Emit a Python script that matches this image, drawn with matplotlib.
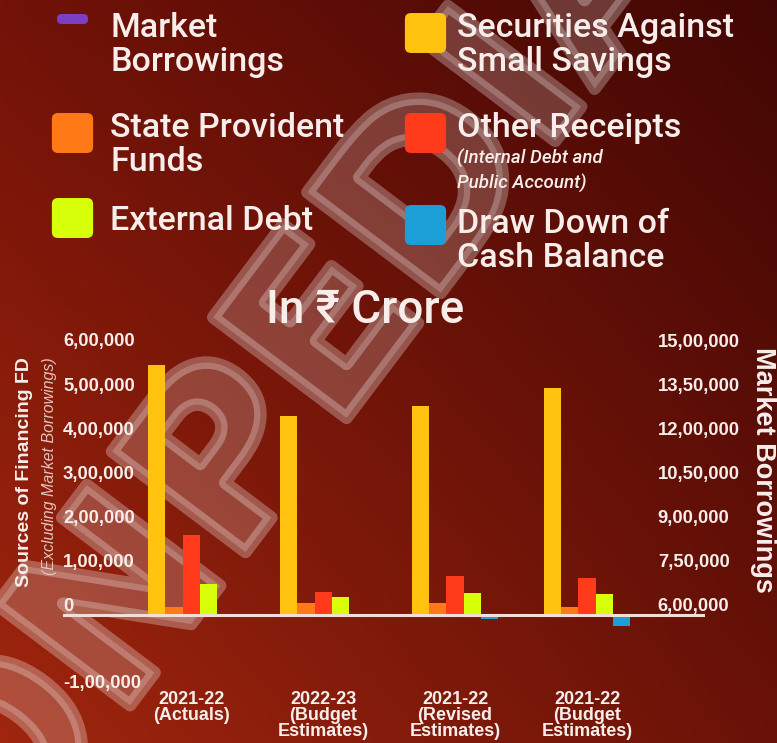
import matplotlib.pyplot as plt
import numpy as np
import matplotlib.patheffects as pe
from matplotlib.patches import FancyBboxPatch
from matplotlib import transforms

# data (in Rs crore)
periods = ['2021-22\n(Actuals)', '2022-23\n(Budget\nEstimates)',
           '2021-22\n(Revised\nEstimates)', '2021-22\n(Budget\nEstimates)']
securities = [566000, 450000, 473000, 513000]
state_pf = [18000, 27000, 27000, 18000]
other_receipts = [181000, 52000, 88000, 84000]
external_debt = [70000, 41000, 50000, 47000]
cash_drawdown = [-5000, 0, -9000, -25000]
series = [securities, state_pf, other_receipts, external_debt, cash_drawdown]
colors = ['#FFC20E', '#FF7A17', '#FF3B1C', '#D8FF0A', '#1B9FD6']
left_ticks = [-100000, 0, 100000, 200000, 300000, 400000, 500000, 600000]
right_ticks = [600000, 750000, 900000, 1050000, 1200000, 1350000, 1500000]

W, H = 777, 743
TXT = '#F7EEEB'


def inr(v):
    s = str(abs(int(v)))
    if len(s) > 3:
        head, tail = s[:-3], s[-3:]
        parts = []
        while len(head) > 2:
            parts.insert(0, head[-2:])
            head = head[:-2]
        if head:
            parts.insert(0, head)
        s = ','.join(parts + [tail])
    return ('-' if v < 0 else '') + s


def fx(x):
    return x / W


def fy(y):
    return 1 - y / H


fig = plt.figure(figsize=(W / 100, H / 100), dpi=100)

# background gradient
bg = fig.add_axes([0, 0, 1, 1], zorder=-3)
bg.axis('off')
tl, tr = np.array([0x72, 0x12, 0x08]), np.array([0x42, 0x07, 0x04])
bl, br = np.array([0xA0, 0x26, 0x0E]), np.array([0x6A, 0x12, 0x08])
u = np.linspace(0, 1, 200)[None, :, None]
v = np.linspace(0, 1, 200)[:, None, None]
grad = (tl * (1 - u) * (1 - v) + tr * u * (1 - v) + bl * (1 - u) * v + br * u * v) / 255
bg.imshow(grad, aspect='auto', extent=[0, 1, 0, 1])
bg.set_xlim(0, 1)
bg.set_ylim(0, 1)

# watermark
fig.text(fx(300), fy(375), 'ONPEDIA', rotation=53, ha='center', va='center',
         fontsize=165, fontweight='bold', family='DejaVu Sans',
         color=(1, 1, 1, 0.10), zorder=-2,
         path_effects=[pe.Stroke(linewidth=9, foreground=(1, 1, 1, 0.28)), pe.Normal()])

# main axes
ax = fig.add_axes([fx(63), fy(681), fx(705) - fx(63), fy(350) - fy(681)])
ax.patch.set_visible(False)
for s in ax.spines.values():
    s.set_visible(False)
x = np.arange(len(periods))
bw = 0.129
for i, (vals, c) in enumerate(zip(series, colors)):
    ax.bar(x + (i - 2) * bw, vals, bw, color=c, zorder=3)
ax.axhline(0, color='#F3DDD6', lw=2.2, zorder=4)
ax.set_xlim(-0.97, 3.894)
ax.set_ylim(-150000, 600000)

ax.set_yticks(left_ticks)
ax.set_yticklabels([inr(t) for t in left_ticks])
ax.tick_params(axis='y', length=0, pad=0, colors=TXT)
for t, lab in zip(left_ticks, ax.get_yticklabels()):
    lab.set_horizontalalignment('left')
    lab.set_fontweight('bold')
    lab.set_fontsize(13.3)
    lab.set_family('Liberation Sans')
    dy = 10 if t >= 0 else -23
    lab.set_transform(lab.get_transform() + transforms.ScaledTranslation(0, dy / 100, fig.dpi_scale_trans))

ax.set_xticks(x)
ax.set_xticklabels(periods, fontsize=13, fontweight='bold', family='Liberation Sans',
                   color=TXT, linespacing=0.95, va='top')
ax.tick_params(axis='x', length=0, pad=7)

ax2 = ax.twinx()
for s in ax2.spines.values():
    s.set_visible(False)
ax2.set_ylim(375000, 1500000)
ax2.set_yticks(right_ticks)
ax2.set_yticklabels([inr(t) for t in right_ticks])
ax2.tick_params(axis='y', length=0, pad=-34, colors=TXT)
for lab in ax2.get_yticklabels():
    lab.set_horizontalalignment('left')
    lab.set_fontweight('bold')
    lab.set_fontsize(13.3)
    lab.set_family('Liberation Sans')
    lab.set_transform(lab.get_transform() + transforms.ScaledTranslation(0, 10 / 100, fig.dpi_scale_trans))

# axis titles
fig.text(fx(25), fy(472), 'Sources of Financing FD', rotation=90, ha='center', va='center',
         fontsize=14, fontweight='bold', family='Liberation Sans', color=TXT)
fig.text(fx(50), fy(466), '(Excluding Market Borrowings)', rotation=90, ha='center', va='center',
         fontsize=11.5, style='italic', family='Liberation Sans', color='#E2C4BC')
fig.text(fx(763), fy(470), 'Market Borrowings', rotation=-90, ha='center', va='center',
         fontsize=19.5, fontweight='bold', family='Liberation Sans', color=TXT)

# title
fig.text(fx(365), fy(323), 'In ₹ Crore', ha='center', va='baseline', fontsize=33,
         fontweight='medium', family=['Roboto', 'DejaVu Sans'], color=TXT)

# legend
legend_names = ['Market\nBorrowings', 'Securities Against\nSmall Savings', 'State Provident\nFunds',
                'Other Receipts', 'External Debt', 'Draw Down of\nCash Balance']
legend_colors = ['#7A3FC2', colors[0], colors[1], colors[2], colors[3], colors[4]]
legend_xy = [(52, 37), (405, 37), (52, 137), (405, 137), (52, 230), (405, 233)]
box_top = [None, 13, 113, 113, 198, 205]
for k, (name, c, (lx, by)) in enumerate(zip(legend_names, legend_colors, legend_xy)):
    if k == 0:
        fig.add_artist(FancyBboxPatch((fx(lx + 5), fy(24)), fx(31), fy(14) - fy(24),
                                      boxstyle='round,pad=0.0,rounding_size=0.006',
                                      transform=fig.transFigure, fc=c, ec='none'))
    else:
        t0 = box_top[k]
        fig.add_artist(FancyBboxPatch((fx(lx + 3), fy(t0 + 37)), fx(35), fy(t0 + 3) - fy(t0 + 37),
                                      boxstyle='round,pad=0.004,rounding_size=0.008',
                                      transform=fig.transFigure, fc=c, ec='none'))
    tx = 110 if lx < 200 else 457
    for j, line in enumerate(name.split('\n')):
        fig.text(fx(tx), fy(by + 34 * j), line, ha='left', va='baseline', fontsize=24.5,
                 fontweight='medium', family=['Roboto', 'DejaVu Sans'], color=TXT)
fig.text(fx(457), fy(163), '(Internal Debt and', ha='left', va='baseline', fontsize=13.5,
         style='italic', fontweight='medium', family=['Roboto', 'DejaVu Sans'], color=TXT)
fig.text(fx(457), fy(188), 'Public Account)', ha='left', va='baseline', fontsize=13.5,
         style='italic', fontweight='medium', family=['Roboto', 'DejaVu Sans'], color=TXT)

fig.savefig('out.png', dpi=100)
